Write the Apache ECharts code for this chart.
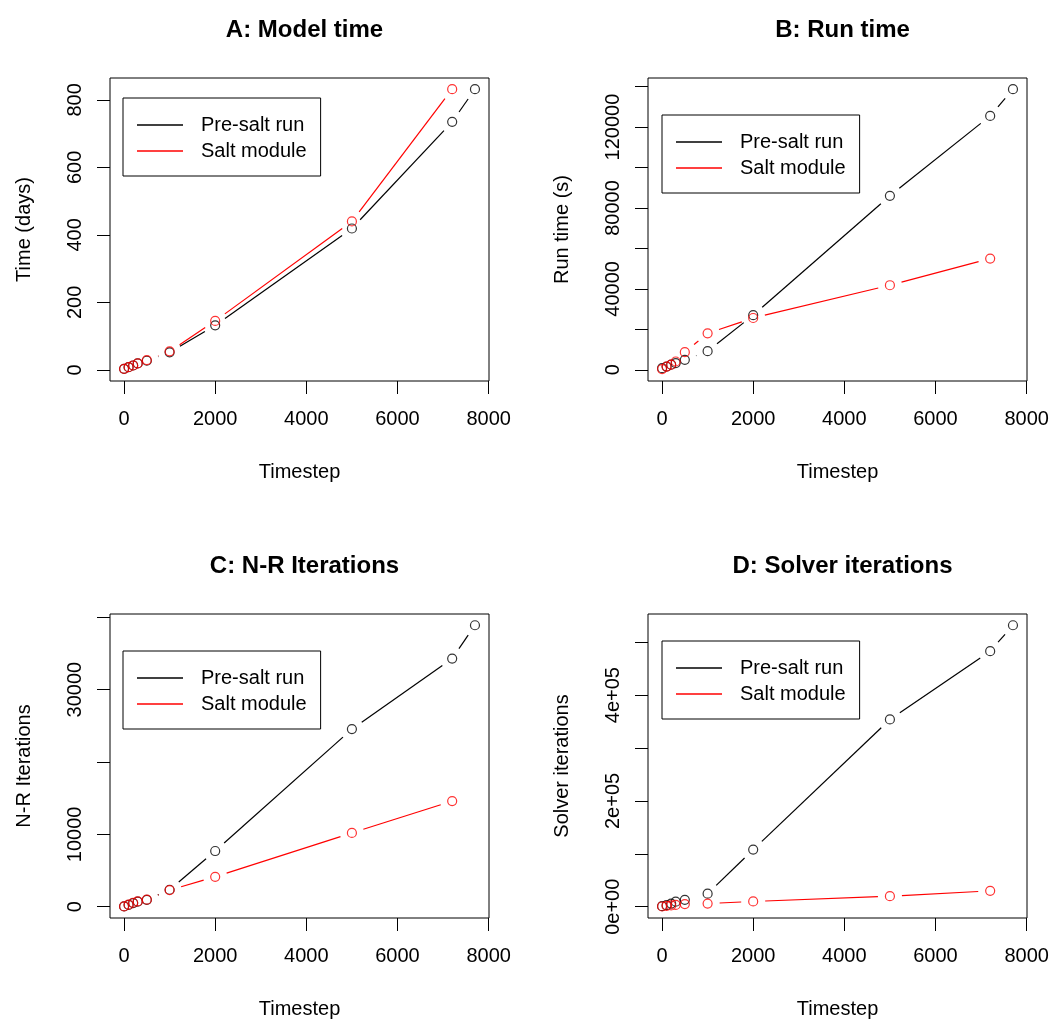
<!DOCTYPE html>
<html><head><meta charset="utf-8">
<script src="https://cdn.jsdelivr.net/npm/echarts@6/dist/echarts.min.js"></script>
<style>html,body{margin:0;padding:0;background:#fff}#c{width:1054px;height:1021px}</style>
</head><body><div id="c"></div>
<script>
// ---- data ----
const timestepsPre  = [1, 100, 200, 300, 500, 1000, 2000, 5000, 7200, 7700];
const timestepsSalt = [1, 100, 200, 300, 500, 1000, 2000, 5000, 7200];

const modelTimePre  = [3, 8, 13, 19, 27, 52, 132, 419, 735, 832];
const modelTimeSalt = [3, 8, 13, 19, 29, 55, 145, 440, 832];

const runTimePre  = [800, 1600, 2500, 3300, 4900, 9200, 27000, 86000, 125500, 138700];
const runTimeSalt = [350, 1600, 2500, 4100, 8700, 18000, 25600, 41800, 55000];

const nrItersPre  = [50, 250, 500, 700, 950, 2350, 7700, 24550, 34300, 38900];
const nrItersSalt = [40, 280, 550, 730, 970, 2300, 4140, 10200, 14600];

const solverItersPre  = [1000, 3000, 6000, 9500, 13000, 24600, 108000, 354000, 483000, 532000];
const solverItersSalt = [500, 1500, 2500, 3500, 5000, 6000, 10000, 20000, 30000];

const titles = ['A: Model time', 'B: Run time', 'C: N-R Iterations', 'D: Solver iterations'];
const yNames = ['Time (days)', 'Run time (s)', 'N-R Iterations', 'Solver iterations'];
const seriesNames = ['Pre-salt run', 'Salt module'];
const xTicks = [0, 2000, 4000, 6000, 8000];
const yTicksA = [0, 200, 400, 600, 800];
const yLabelsA = [0, 200, 400, 600, 800];
const yTicksB = [0, 20000, 40000, 60000, 80000, 100000, 120000, 140000];
const yLabelsB = [0, 40000, 80000, 120000];
const yTicksC = [0, 10000, 20000, 30000, 40000];
const yLabelsC = [0, 10000, 30000];
const yTicksD = [0, 100000, 200000, 300000, 400000, 500000];
const yLabelsD = [0, 200000, 400000];

// ---- layout / style ----
const FONT = 'Liberation Sans, Arial, sans-serif';
const GAP = 12;
const colors = ['#000000', '#ff0000'];
const grids = [
  {left: 110, top: 78, width: 379, height: 303},
  {left: 648, top: 78, width: 379, height: 303},
  {left: 110, top: 614, width: 379, height: 304},
  {left: 648, top: 614, width: 379, height: 304}
];
const yRanges = [[-33, 865], [-5548, 144248], [-1556, 40456], [-21280, 553280]];
const legendPos = [[123, 98], [662, 115], [123, 651], [662, 641]];
const panelData = [
  [modelTimePre, modelTimeSalt, yTicksA, yLabelsA],
  [runTimePre, runTimeSalt, yTicksB, yLabelsB],
  [nrItersPre, nrItersSalt, yTicksC, yLabelsC],
  [solverItersPre, solverItersSalt, yTicksD, yLabelsD]
];
function sciFmt(v) {
  if (v === 0) return '0e+00';
  const e = Math.floor(Math.log10(Math.abs(v)));
  const m = Math.round(v / Math.pow(10, e));
  return m + 'e+' + String(e).padStart(2, '0');
}
function plainFmt(v) { return String(v); }
function segRender(color) {
  return function (params, api) {
    const p1 = api.coord([api.value(0), api.value(1)]);
    const p2 = api.coord([api.value(2), api.value(3)]);
    const dx = p2[0] - p1[0], dy = p2[1] - p1[1];
    const d = Math.hypot(dx, dy);
    if (d <= 2 * GAP) return null;
    const ux = dx / d, uy = dy / d;
    return {
      type: 'line', silent: true,
      shape: {x1: p1[0] + ux * GAP, y1: p1[1] + uy * GAP, x2: p2[0] - ux * GAP, y2: p2[1] - uy * GAP},
      style: {stroke: color, lineWidth: 1.2}
    };
  };
}
const option = {
  animation: false,
  backgroundColor: '#fff',
  title: [], legend: [], grid: [], xAxis: [], yAxis: [], series: []
};
const gridCenters = grids.map(g => g.left + g.width / 2);
panelData.forEach((pd, i) => {
  const [pre, salt, yT, yL] = pd;
  option.grid.push(Object.assign({show: true, borderColor: '#000', borderWidth: 1, backgroundColor: 'transparent'}, grids[i]));
  option.title.push({
    text: titles[i], left: gridCenters[i], top: grids[i].top - 65, textAlign: 'center',
    textStyle: {fontFamily: FONT, fontSize: 24, fontWeight: 'bold', color: '#000'}
  });
  option.legend.push({
    orient: 'vertical', left: legendPos[i][0], top: legendPos[i][1],
    padding: [17, 14, 15, 14], itemGap: 6, itemWidth: 46, itemHeight: 1.3, icon: 'rect',
    borderColor: '#000', borderWidth: 1, borderRadius: 0, backgroundColor: '#fff',
    selectedMode: false,
    textStyle: {fontFamily: FONT, fontSize: 20, color: '#000', padding: [0, 0, 0, 13]},
    data: seriesNames.map((n, k) => ({name: n, itemStyle: {color: colors[k]}}))
  });
  option.xAxis.push({
    gridIndex: i, type: 'value', min: -308, max: 8008,
    axisLine: {show: false, onZero: false}, splitLine: {show: false},
    axisTick: {show: true, inside: false, customValues: xTicks, length: 13, lineStyle: {color: '#000', width: 1}},
    axisLabel: {customValues: xTicks, margin: 28, fontFamily: FONT, fontSize: 20, color: '#000', formatter: plainFmt},
    name: 'Timestep', nameLocation: 'middle', nameGap: 81,
    nameTextStyle: {fontFamily: FONT, fontSize: 20, color: '#000'}
  });
  option.yAxis.push({
    gridIndex: i, type: 'value', min: yRanges[i][0], max: yRanges[i][1],
    axisLine: {show: false, onZero: false}, splitLine: {show: false},
    axisTick: {show: true, inside: false, customValues: yT, length: 13, lineStyle: {color: '#000', width: 1}},
    axisLabel: {customValues: yL, rotate: 90, margin: 25, fontFamily: FONT, fontSize: 20, color: '#000',
      formatter: i === 3 ? sciFmt : plainFmt},
    name: yNames[i], nameLocation: 'middle', nameGap: 76,
    nameTextStyle: {fontFamily: FONT, fontSize: 20, color: '#000'}
  });
  [[timestepsPre, pre], [timestepsSalt, salt]].forEach(([xs, ys], k) => {
    option.series.push({
      type: 'custom', name: seriesNames[k], xAxisIndex: i, yAxisIndex: i,
      itemStyle: {color: colors[k]},
      renderItem: segRender(colors[k]),
      encode: {x: [0, 2], y: [1, 3]},
      data: xs.slice(1).map((x, j) => [xs[j], ys[j], x, ys[j + 1]])
    });
    option.series.push({
      type: 'scatter', name: seriesNames[k], xAxisIndex: i, yAxisIndex: i,
      symbol: 'circle', symbolSize: 9,
      itemStyle: {color: 'rgba(0,0,0,0)', borderColor: colors[k], borderWidth: 1.2},
      emphasis: {disabled: true},
      data: xs.map((x, j) => [x, ys[j]])
    });
  });
});
const chart = echarts.init(document.getElementById('c'), null, {renderer: 'canvas'});
chart.setOption(option);
</script>
</body></html>
